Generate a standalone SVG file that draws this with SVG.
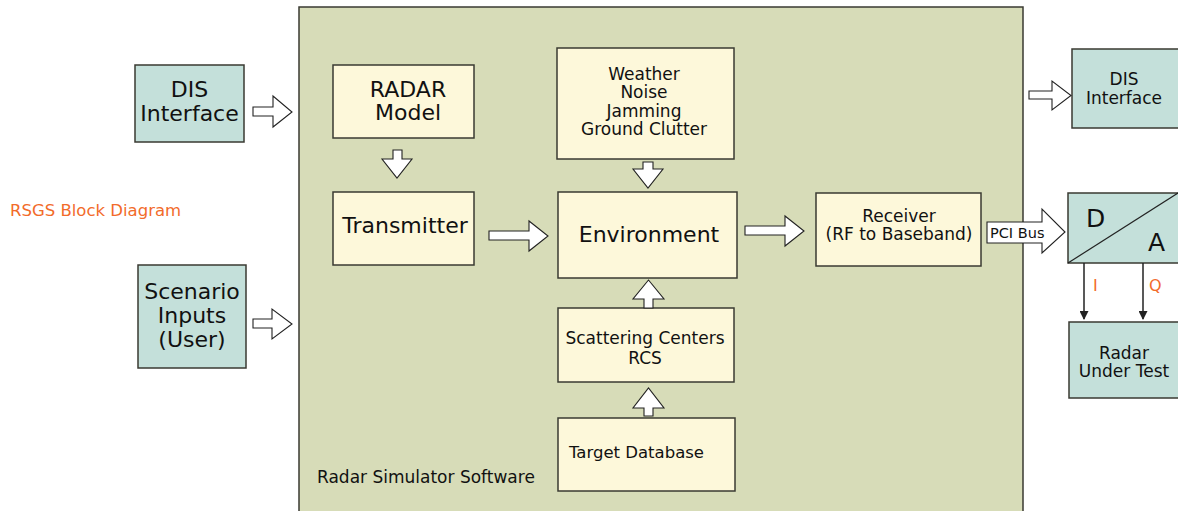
<svg xmlns="http://www.w3.org/2000/svg" width="1178" height="511" viewBox="0 0 1178 511">
<defs>
<style>
text{font-family:"DejaVu Sans","Open Sans",sans-serif;fill:#111;}
.box{stroke:#3a3a32;stroke-width:1.5;}
.cream{fill:#fdf8da;}
.teal{fill:#c4e0da;}
.arr{fill:#fff;stroke:#222;stroke-width:1.1;stroke-linejoin:miter;}
.big{font-size:22px;}
.mid{font-size:17px;}
.org{fill:#f26b2a;}
.ln{stroke:#222;stroke-width:1.5;fill:none;}
</style>
<marker id="ah" viewBox="0 0 10 10" refX="9" refY="5" markerWidth="13" markerHeight="9" markerUnits="userSpaceOnUse" orient="auto">
<path d="M0,0 L10,5 L0,10 Z" fill="#222"/>
</marker>
</defs>
<rect width="1178" height="511" fill="#fff"/>
<text x="10" y="216" class="org" font-size="16.5">RSGS Block Diagram</text>

<g id="panel">
<rect x="299" y="7" width="724" height="520" fill="#d7dcb8" stroke="#3a3a32" stroke-width="1.5"/>
<text x="317" y="483" font-size="17">Radar Simulator Software</text>
</g>

<g id="dis-left">
<rect class="box teal" x="135" y="65" width="109" height="77"/>
<text class="big" x="189.5" y="97" text-anchor="middle">DIS</text>
<text class="big" x="189.5" y="121" text-anchor="middle">Interface</text>
</g>
<g id="scenario">
<rect class="box teal" x="138" y="265" width="108" height="103"/>
<text class="big" x="192" y="299" text-anchor="middle">Scenario</text>
<text class="big" x="192" y="323" text-anchor="middle">Inputs</text>
<text class="big" x="192" y="347" text-anchor="middle">(User)</text>
</g>
<g id="radar-model">
<rect class="box cream" x="333" y="65" width="141" height="73"/>
<text class="big" x="408" y="97" text-anchor="middle">RADAR</text>
<text class="big" x="408" y="120" text-anchor="middle">Model</text>
</g>
<g id="transmitter">
<rect class="box cream" x="333" y="192" width="141" height="73"/>
<text class="big" x="405" y="233" text-anchor="middle">Transmitter</text>
</g>
<g id="weather">
<rect class="box cream" x="557" y="48" width="177" height="111"/>
<text class="mid" x="644" y="80" text-anchor="middle">Weather</text>
<text class="mid" x="644" y="98" text-anchor="middle">Noise</text>
<text class="mid" x="644" y="117" text-anchor="middle">Jamming</text>
<text class="mid" x="644" y="135" text-anchor="middle">Ground Clutter</text>
</g>
<g id="environment">
<rect class="box cream" x="558" y="192" width="179" height="86"/>
<text class="big" x="649" y="242" text-anchor="middle">Environment</text>
</g>
<g id="scattering">
<rect class="box cream" x="558" y="308" width="176" height="74"/>
<text class="mid" x="645" y="344" text-anchor="middle">Scattering Centers</text>
<text class="mid" x="645" y="364" text-anchor="middle">RCS</text>
</g>
<g id="target-db">
<rect class="box cream" x="558" y="418" width="177" height="73"/>
<text x="569" y="458" font-size="16.5">Target Database</text>
</g>
<g id="receiver">
<rect class="box cream" x="816" y="193" width="165" height="73"/>
<text class="mid" x="899" y="222" text-anchor="middle">Receiver</text>
<text class="mid" x="899" y="240" text-anchor="middle">(RF to Baseband)</text>
</g>
<g id="dis-right">
<rect class="box teal" x="1072" y="49" width="110" height="79"/>
<text class="mid" x="1124" y="85" text-anchor="middle">DIS</text>
<text class="mid" x="1124" y="104" text-anchor="middle">Interface</text>
</g>
<g id="da-converter">
<rect class="box teal" x="1068" y="193" width="114" height="70"/>
<line x1="1068" y1="263" x2="1178" y2="193" stroke="#222" stroke-width="1.2"/>
<text x="1086" y="227" font-size="25">D</text>
<text x="1148" y="251" font-size="25">A</text>
</g>
<g id="radar-under-test">
<rect class="box teal" x="1069" y="322" width="113" height="76"/>
<text class="mid" x="1124" y="359" text-anchor="middle">Radar</text>
<text class="mid" x="1124" y="377" text-anchor="middle">Under Test</text>
</g>

<g id="connectors">
<path class="arr" d="M253,107 H273 V96 L292,112 L273,127 V116 H253 Z"/>
<path class="arr" d="M253,319 H272 V309 L292,324 L272,339 V328 H253 Z"/>
<path class="arr" d="M393,150 H402 V159 H412 L397,178 L382,159 H393 Z"/>
<path class="arr" d="M489,231 H529 V221 L548,236 L529,251 V240 H489 Z"/>
<path class="arr" d="M643,162 H653 V169 H663 L648,188 L633,169 H643 Z"/>
<path class="arr" d="M644,308 V299 H633 L648.5,280 L664,299 H653 V308 Z"/>
<path class="arr" d="M644,416 V408 H633 L648.5,388 L664,408 H653 V416 Z"/>
<path class="arr" d="M745,226 H785 V216 L804,231 L785,246 V235 H745 Z"/>
<path class="arr" d="M1029,91 H1052 V81 L1071,95.5 L1052,110 V99 H1029 Z"/>
<path class="arr" d="M987,222 H1042 V209 L1065,232 L1042,253 V243 H987 Z"/>
<text x="990" y="237.5" font-size="14.5">PCI Bus</text>
<line class="ln" x1="1084" y1="263" x2="1084" y2="319" marker-end="url(#ah)"/>
<line class="ln" x1="1143" y1="263" x2="1143" y2="319" marker-end="url(#ah)"/>
<text x="1093" y="291" class="org" font-size="16">I</text>
<text x="1149" y="291" class="org" font-size="16">Q</text>
</g>
</svg>
